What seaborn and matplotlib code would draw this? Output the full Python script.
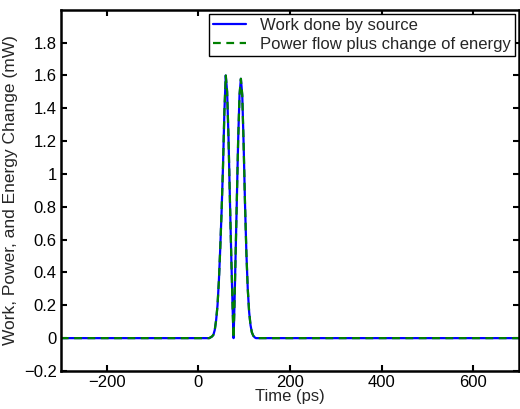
import numpy as np
import pandas as pd
import matplotlib
matplotlib.use("Agg")
import matplotlib.pyplot as plt
import seaborn as sns

# values (time in ps, power in mW)
time_ps = [-300, 0, 24, 27, 30, 33, 36, 39, 42, 45, 48, 51, 54, 57, 60, 63, 66, 69, 72, 75, 77,
           79, 81, 84, 87, 90, 93, 96, 99, 102, 105, 108, 111, 114, 117, 120, 123, 126, 400, 700]
work_source = [0, 0, 0.0, 0.005, 0.01, 0.02, 0.05, 0.11, 0.2, 0.35, 0.55, 0.78, 1.05, 1.38, 1.60,
               1.50, 1.22, 0.85, 0.5, 0.18, 0.0,
               0.2, 0.45, 0.82, 1.2, 1.48, 1.58, 1.48, 1.18, 0.82, 0.52, 0.3, 0.16, 0.08, 0.035,
               0.015, 0.005, 0.0, 0, 0]
power_plus_energy = [0, 0, 0.0, 0.005, 0.01, 0.02, 0.05, 0.11, 0.2, 0.35, 0.55, 0.78, 1.05, 1.38, 1.60,
                     1.50, 1.22, 0.85, 0.5, 0.18, 0.0,
                     0.2, 0.45, 0.82, 1.2, 1.48, 1.58, 1.48, 1.18, 0.82, 0.52, 0.3, 0.16, 0.08, 0.035,
                     0.015, 0.005, 0.0, 0, 0]

x_ticks = [-200, 0, 200, 400, 600]
y_ticks = [-0.2, 0, 0.2, 0.4, 0.6, 0.8, 1, 1.2, 1.4, 1.6, 1.8]

df = pd.DataFrame({"t": time_ps, "work": work_source, "flow": power_plus_energy})

sns.set_theme(style="ticks")
plt.rcParams['font.family'] = ['Liberation Sans', 'DejaVu Sans']

fig = plt.figure(figsize=(5.2, 4.09), dpi=100)
ax = fig.add_axes([0.117, 0.093, 0.881, 0.883])

sns.lineplot(data=df, x="t", y="work", ax=ax, color="#0000ff", linewidth=1.6,
             label="Work done by source")
sns.lineplot(data=df, x="t", y="flow", ax=ax, color="#008000", linewidth=1.6,
             linestyle=(0, (3.5, 2.5)), label="Power flow plus change of energy")

ax.set_xlim(-300, 700)
ax.set_ylim(-0.2, 2.0)
ax.set_xticks(x_ticks)
ax.set_yticks(y_ticks)
ax.set_yticklabels(["\u22120.2", "0", "0.2", "0.4", "0.6", "0.8", "1", "1.2", "1.4", "1.6", "1.8"])
ax.set_xticklabels(["\u2212200", "0", "200", "400", "600"])
ax.tick_params(direction="in", length=4, width=1.5, top=True, right=True,
               labelsize=12, colors="black", pad=3)
for s in ax.spines.values():
    s.set_linewidth(1.8)
    s.set_color("black")

ax.set_xlabel("Time (ps)", fontsize=12, labelpad=-1)
ax.set_ylabel("Work, Power, and Energy Change (mW)", fontsize=12.5, labelpad=4)

leg = ax.legend(loc="upper right", fontsize=12, frameon=True, fancybox=False,
                borderaxespad=0.25, handlelength=2.0, borderpad=0.25, labelspacing=0.25,
                handletextpad=0.8)
leg.get_frame().set_edgecolor("black")
leg.get_frame().set_linewidth(1.0)
leg.get_frame().set_alpha(1)

fig.savefig("out.png", dpi=100)
